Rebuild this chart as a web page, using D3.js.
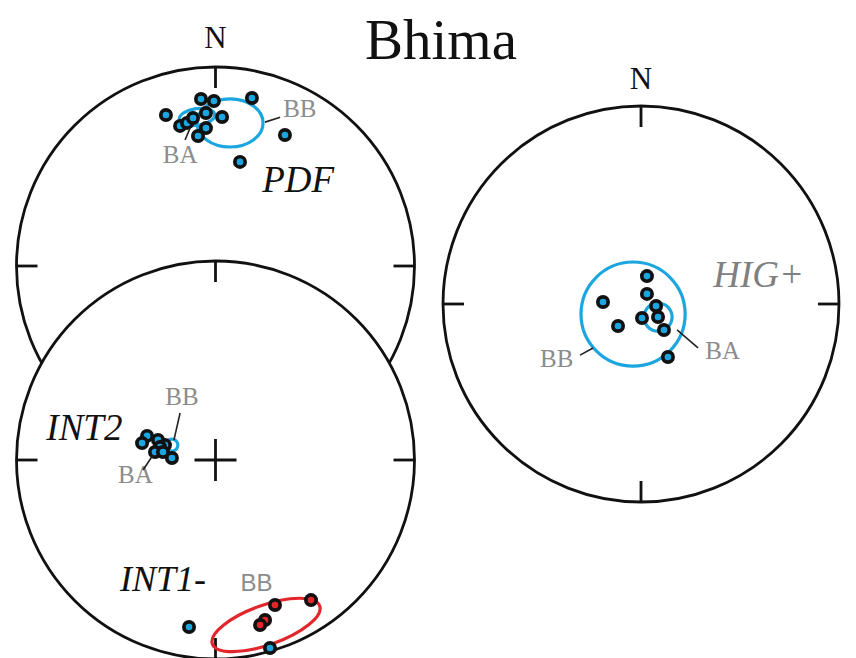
<!DOCTYPE html>
<html>
<head>
<meta charset="utf-8">
<script src="https://cdn.jsdelivr.net/npm/d3@7/dist/d3.min.js"></script>
<style>
  html, body { margin: 0; padding: 0; background: #fff; }
  svg { display: block; }
</style>
</head>
<body>
<svg id="chart" width="856" height="658"></svg>
<script>
// Equal-area net coordinates: x = east, y = north, unit circle = primitive.

// PDF set (upper-left net)
const pdfPoints = [
  [-0.073, 0.839], [-0.008, 0.829], [0.183, 0.844], [-0.249, 0.759],
  [-0.178, 0.704], [-0.143, 0.719], [-0.113, 0.744], [-0.048, 0.769],
  [0.033, 0.749], [-0.048, 0.693], [-0.088, 0.653], [0.349, 0.658],
  [0.123, 0.523]
];
// ellipses: [cx, cy, rx, ry, rotation deg]
const pdfBB = [0.073, 0.719, 0.166, 0.121, 0];
const pdfBA = [-0.093, 0.749, 0.09, 0.042, -8];

// INT2 set (lower-left net)
const int2Points = [
  [-0.344, 0.121], [-0.369, 0.085], [-0.289, 0.101], [-0.254, 0.075],
  [-0.279, 0.065], [-0.304, 0.040], [-0.264, 0.040], [-0.219, 0.010]
];
const int2BB = [-0.219, 0.075, 0.03, 0.03, 0];
const int2BA = [-0.285, 0.065, 0.02, 0.015, 0];

// INT1- set (lower-left net); "r" = reversed polarity
const int1Points = [
  [0.299, -0.729, "r"], [0.480, -0.704, "r"], [0.249, -0.804, "r"],
  [0.224, -0.829, "r"], [-0.133, -0.839, "n"], [0.274, -0.945, "n"]
];
const int1BB = [0.254, -0.829, 0.286, 0.10, -19.5];

// HIG+ set (right net)
const higPoints = [
  [0.030, 0.141], [0.030, 0.051], [-0.192, 0.010], [0.076, -0.010],
  [0.086, -0.066], [0.005, -0.071], [-0.116, -0.111], [0.116, -0.131],
  [0.136, -0.268]
];
const higBB = [-0.040, -0.051, 0.263, 0.263, 0];
const higBA = [0.086, -0.066, 0.071, 0.071, 0];

const BLUE = "#1ba6e0";
const RED = "#e3262c";
const GREY = "#8c8c8c";
const SERIF = "'Liberation Serif', 'DejaVu Serif', serif";

const svg = d3.select("#chart");

function makeNet(cx, cy, r, opts) {
  const g = svg.append("g");
  const x = d3.scaleLinear().domain([-1, 1]).range([cx - r, cx + r]);
  const y = d3.scaleLinear().domain([-1, 1]).range([cy + r, cy - r]);
  g.append("circle")
    .attr("cx", x(0)).attr("cy", y(0)).attr("r", r)
    .attr("fill", "#fff").attr("stroke", "#111").attr("stroke-width", 2.8);
  const t = 21 / r;
  const ticks = [[0, 1, 0, 1 - t], [0, -1, 0, -1 + t], [1, 0, 1 - t, 0], [-1, 0, -1 + t, 0]];
  g.selectAll("line.tick").data(ticks).join("line")
    .attr("class", "tick")
    .attr("x1", d => x(d[0])).attr("y1", d => y(d[1]))
    .attr("x2", d => x(d[2])).attr("y2", d => y(d[3]))
    .attr("stroke", "#111").attr("stroke-width", 2.8);
  if (opts && opts.cross) {
    const c = 21 / r;
    g.append("line").attr("x1", x(-c)).attr("x2", x(c)).attr("y1", y(0)).attr("y2", y(0))
      .attr("stroke", "#111").attr("stroke-width", 2.8);
    g.append("line").attr("x1", x(0)).attr("x2", x(0)).attr("y1", y(-c)).attr("y2", y(c))
      .attr("stroke", "#111").attr("stroke-width", 2.8);
  }
  return { g, x, y };
}

function ellipse(net, e, color) {
  const [ex, ey, rx, ry, rot] = e;
  net.g.append("ellipse")
    .attr("cx", net.x(ex)).attr("cy", net.y(ey))
    .attr("rx", net.x(rx) - net.x(0)).attr("ry", net.y(0) - net.y(ry))
    .attr("transform", `rotate(${rot} ${net.x(ex)} ${net.y(ey)})`)
    .attr("fill", "none").attr("stroke", color).attr("stroke-width", 3.2);
}

function dots(net, pts, colorFn) {
  const sel = net.g.append("g").selectAll("g").data(pts).join("g")
    .attr("transform", d => `translate(${net.x(d[0])},${net.y(d[1])})`);
  sel.append("circle").attr("r", 7).attr("fill", "#111");
  sel.append("circle").attr("r", 3.3).attr("fill", d => colorFn(d));
}

function label(net, text, lx, ly, opts) {
  const o = Object.assign({ size: 25, color: GREY, family: SERIF, italic: false, anchor: "start" }, opts);
  net.g.append("text")
    .attr("x", net.x(lx)).attr("y", net.y(ly))
    .attr("font-family", o.family).attr("font-size", o.size)
    .attr("font-style", o.italic ? "italic" : "normal")
    .attr("text-anchor", o.anchor)
    .attr("fill", o.color).text(text);
}

function leader(net, x1, y1, x2, y2) {
  net.g.append("line")
    .attr("x1", net.x(x1)).attr("y1", net.y(y1))
    .attr("x2", net.x(x2)).attr("y2", net.y(y2))
    .attr("stroke", "#222").attr("stroke-width", 1.6);
}

// Upper-left net: PDF
const upperNet = makeNet(215.5, 266, 199);
ellipse(upperNet, pdfBB, BLUE);
ellipse(upperNet, pdfBA, BLUE);
dots(upperNet, pdfPoints, () => BLUE);
label(upperNet, "BB", 0.34, 0.75);
leader(upperNet, 0.249, 0.723, 0.325, 0.747);
label(upperNet, "BA", -0.265, 0.52);
leader(upperNet, -0.153, 0.633, -0.128, 0.693);
label(upperNet, "PDF", 0.235, 0.37, { size: 37, color: "#111", italic: true });
svg.append("text").attr("x", upperNet.x(0)).attr("y", 48)
  .attr("font-family", SERIF).attr("font-size", 31).attr("text-anchor", "middle")
  .attr("fill", "#111").text("N");

// Lower-left net: INT2 and INT1-
const lowerNet = makeNet(215.5, 460, 199, { cross: true });
ellipse(lowerNet, int2BA, BLUE);
ellipse(lowerNet, int2BB, BLUE);
dots(lowerNet, int2Points, () => BLUE);
label(lowerNet, "BB", -0.252, 0.276);
leader(lowerNet, -0.178, 0.236, -0.209, 0.100);
label(lowerNet, "BA", -0.49, -0.116);
leader(lowerNet, -0.364, -0.050, -0.314, 0.025);
label(lowerNet, "INT2", -0.85, 0.10, { size: 37, color: "#111", italic: true });

ellipse(lowerNet, int1BB, RED);
dots(lowerNet, int1Points, d => d[2] === "r" ? RED : BLUE);
label(lowerNet, "BB", 0.125, -0.656, { size: 24, family: "'Liberation Sans', Arial, sans-serif" });
label(lowerNet, "INT1-", -0.48, -0.656, { size: 36, color: "#111", italic: true });

// Right net: HIG+
const rightNet = makeNet(641, 304, 198);
ellipse(rightNet, higBB, BLUE);
ellipse(rightNet, higBA, BLUE);
dots(rightNet, higPoints, () => BLUE);
label(rightNet, "BB", -0.51, -0.32);
leader(rightNet, -0.308, -0.258, -0.242, -0.222);
label(rightNet, "BA", 0.325, -0.28);
leader(rightNet, 0.182, -0.131, 0.288, -0.222);
label(rightNet, "HIG+", 0.365, 0.085, { size: 37, color: "#808080", italic: true });
svg.append("text").attr("x", rightNet.x(0)).attr("y", 89)
  .attr("font-family", SERIF).attr("font-size", 31).attr("text-anchor", "middle")
  .attr("fill", "#111").text("N");

// Title
svg.append("text").attr("x", 365).attr("y", 59)
  .attr("font-family", SERIF).attr("font-size", 57)
  .attr("fill", "#111").text("Bhima");
</script>
</body>
</html>
